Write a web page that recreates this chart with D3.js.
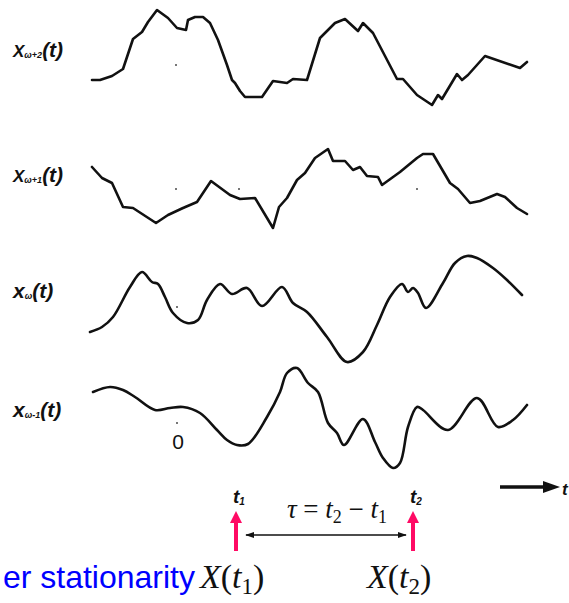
<!DOCTYPE html>
<html><head><meta charset="utf-8">
<script src="https://cdn.jsdelivr.net/npm/d3@7"></script>
<style>
html,body{margin:0;padding:0;background:#fff;}
svg{display:block;}
</style></head>
<body>
<svg id="chart" width="569" height="603"></svg>
<script>
// ---- Data: sample functions, [time, value] ----
const seriesTop = [[2,-23],[10,-23],[22,-19],[33,-12],[43,18],[52,25],[58,35],[67,47],[78,39],[87,29],[96,27],[98,37],[105,40],[113,40],[120,34],[128,17],[137,-8],[142,-23],[145,-26],[150,-34],[155,-40],[172,-40],[183,-24],[197,-26],[203,-22],[217,-23],[230,19],[245,34],[255,38],[268,26],[273,34],[283,24],[307,-22],[313,-22],[327,-38],[342,-48],[348,-38],[352,-42],[367,-17],[372,-23],[378,-18],[395,1],[430,-11],[437,-5]];
const seriesSecond = [[2,21],[12,10],[22,5],[33,-19],[43,-20],[66,-35],[78,-27],[93,-20],[107,-14],[121,7],[140,-7],[150,-11],[165,-10],[183,-40],[189,-19],[197,-10],[207,8],[215,15],[225,30],[238,39],[243,27],[255,27],[263,18],[270,21],[277,12],[288,11],[292,3],[310,16],[327,30],[333,34],[343,34],[360,5],[368,-1],[380,-15],[390,-13],[407,-6],[415,-9],[427,-20],[437,-26]];
const seriesThird = [[0,-23],[12,-18],[23,-8],[40,22],[52,37],[62,27],[68,25],[75,12],[83,-4],[97,-14],[108,-11],[117,9],[130,25],[142,15],[157,21],[172,3],[192,22],[203,6],[217,-3],[237,-28],[257,-53],[273,-43],[287,-16],[300,12],[312,25],[318,17],[323,21],[328,16],[336,1],[353,26],[365,46],[377,53],[387,51],[403,41],[417,29],[432,14]];
const seriesFourth = [[3,26],[20,31],[33,28],[45,21],[65,8],[80,10],[93,11],[110,5],[127,-12],[137,-22],[147,-27],[158,-26],[177,1],[190,26],[197,45],[207,50],[218,35],[228,26],[238,-5],[247,-15],[254,-27],[273,-1],[285,-24],[293,-40],[303,-50],[310,-45],[318,-9],[327,11],[333,8],[358,-12],[387,20],[408,-9],[423,-2],[437,13]];

// small reference dots on each sample function [time, value]
const dotsTop = [[86,-8]];
const dotsSecond = [[86,-1],[149,-1],[327,-1]];
const dotsThird = [[87,2]];
const dotsFourth = [[87,-5]];

const labelMain = ["X","X","x","x"];
const labelSub = ["ω+2","ω+1","ω","ω-1"];
const originLabel = "0";
const markTimes = [146, 323];
const markLabels = ["1","2"];
const blueText = "er stationarity";

// ---- Layout ----
const svg = d3.select("#chart");
const x = d3.scaleLinear().domain([0, 440]).range([90, 530]);
const panelCenters = [57, 188, 309, 418];
const panels = [
  {data: seriesTop, dots: dotsTop, curve: d3.curveLinear},
  {data: seriesSecond, dots: dotsSecond, curve: d3.curveLinear},
  {data: seriesThird, dots: dotsThird, curve: d3.curveCatmullRom.alpha(0.5)},
  {data: seriesFourth, dots: dotsFourth, curve: d3.curveCatmullRom.alpha(0.5)}
];
const labelBase = [57, 182, 298, 417];

panels.forEach((p, i) => {
  const c = panelCenters[i];
  const y = d3.scaleLinear().domain([-60, 60]).range([c + 60, c - 60]);
  const line = d3.line().x(d => x(d[0])).y(d => y(d[1])).curve(p.curve);
  svg.append("path").datum(p.data)
    .attr("d", line)
    .attr("fill", "none")
    .attr("stroke", "#111")
    .attr("stroke-width", 2.6)
    .attr("stroke-linejoin", "round")
    .attr("stroke-linecap", "round");
  svg.selectAll(null).data(p.dots).enter().append("rect")
    .attr("x", d => x(d[0]) - 1).attr("y", d => y(d[1]) - 1)
    .attr("width", 2).attr("height", 2).attr("fill", "#777");

  const lower = labelMain[i] === "x";
  const t = svg.append("text")
    .attr("x", 13).attr("y", labelBase[i])
    .attr("font-family", "Liberation Sans, Arial, sans-serif")
    .attr("font-weight", "bold").attr("font-style", "italic")
    .attr("fill", "#111");
  t.append("tspan").attr("font-size", lower ? 21 : 17).text(labelMain[i]);
  t.append("tspan").attr("font-size", 9).attr("dy", 1).text(labelSub[i]);
  t.append("tspan").attr("font-size", 21).attr("dy", -1).text("(t)");
});

// origin label
svg.append("text").attr("x", x(88)).attr("y", 449)
  .attr("text-anchor", "middle")
  .attr("font-family", "Liberation Sans, Arial, sans-serif")
  .attr("font-size", 21).attr("fill", "#111").text(originLabel);

// time arrow
svg.append("line").attr("x1", 500).attr("x2", 546).attr("y1", 487).attr("y2", 487)
  .attr("stroke", "#111").attr("stroke-width", 3.5);
svg.append("path").attr("d", "M543,481 L560,487 L543,493 Z").attr("fill", "#111");
svg.append("text").attr("x", 562).attr("y", 495)
  .attr("font-family", "Liberation Sans, Arial, sans-serif")
  .attr("font-weight", "bold").attr("font-style", "italic")
  .attr("font-size", 17).attr("fill", "#111").text("t");

// marks t1, t2
const pink = "#ff0a64";
markTimes.forEach((tm, i) => {
  const cx = x(tm);
  svg.append("line").attr("x1", cx).attr("x2", cx).attr("y1", 551).attr("y2", 520)
    .attr("stroke", pink).attr("stroke-width", 4);
  svg.append("path").attr("d", `M${cx-6},523 L${cx},511 L${cx+6},523 Z`).attr("fill", pink);
  const lt = svg.append("text").attr("x", cx - 3).attr("y", 503)
    .attr("font-family", "Liberation Sans, Arial, sans-serif")
    .attr("font-weight", "bold").attr("font-style", "italic")
    .attr("font-size", 19).attr("fill", "#111");
  lt.append("tspan").text("t");
  lt.append("tspan").attr("font-size", 10).attr("dy", 2).text(markLabels[i]);
});

// double arrow
svg.append("defs").html(
  '<marker id="ah" viewBox="0 0 10 10" refX="9" refY="5" markerWidth="9" markerHeight="9" orient="auto-start-reverse" markerUnits="userSpaceOnUse"><path d="M0,1.5 L10,5 L0,8.5 Z" fill="#111"/></marker>');
svg.append("line").attr("x1", x(markTimes[0]) + 10).attr("x2", x(markTimes[1]) - 7)
  .attr("y1", 535).attr("y2", 535)
  .attr("stroke", "#111").attr("stroke-width", 1.3)
  .attr("marker-start", "url(#ah)").attr("marker-end", "url(#ah)");

// tau equation
const tau = svg.append("text").attr("x", 337).attr("y", 518).attr("text-anchor", "middle")
  .attr("font-family", "Liberation Serif, 'Times New Roman', serif")
  .attr("font-size", 27).attr("fill", "#111");
tau.append("tspan").attr("font-style", "italic").text("τ");
tau.append("tspan").text(" = ");
tau.append("tspan").attr("font-style", "italic").text("t");
tau.append("tspan").attr("font-size", 18).attr("dy", 5).text("2");
tau.append("tspan").attr("dy", -5).text(" − ");
tau.append("tspan").attr("font-style", "italic").text("t");
tau.append("tspan").attr("font-size", 18).attr("dy", 5).text("1");

// blue text
svg.append("text").attr("x", 195).attr("y", 588).attr("text-anchor", "end")
  .attr("font-family", "Liberation Sans, Arial, sans-serif")
  .attr("font-size", 32).attr("fill", "#0000ff").text(blueText);

// X(t1), X(t2)
[[200, "1"], [367, "2"]].forEach(([px, s]) => {
  const tx = svg.append("text").attr("x", px).attr("y", 588)
    .attr("font-family", "Liberation Serif, 'Times New Roman', serif")
    .attr("font-size", 34).attr("fill", "#111");
  tx.append("tspan").attr("font-style", "italic").text("X");
  tx.append("tspan").text("(");
  tx.append("tspan").attr("font-style", "italic").text("t");
  tx.append("tspan").attr("font-size", 23).attr("dy", 6).text(s);
  tx.append("tspan").attr("dy", -6).text(")");
});
</script>
</body></html>
